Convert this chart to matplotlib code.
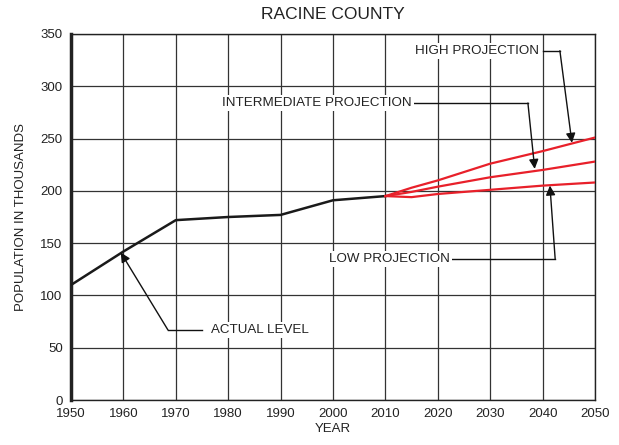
import matplotlib.pyplot as plt

plt.rcParams['font.family'] = ['Liberation Sans', 'DejaVu Sans']

# actual population (thousands)
years_actual = [1950, 1960, 1970, 1980, 1990, 2000, 2010]
pop_actual = [110, 142, 172, 175, 177, 191, 195]

# projections
years_proj = [2010, 2015, 2020, 2030, 2040, 2050]
pop_high = [195, 203, 210, 226, 238, 251]
pop_mid = [195, 199, 204, 213, 220, 228]
pop_low = [195, 194, 197, 201, 205, 208]

red = '#e8202a'

fig = plt.figure(figsize=(6.19, 4.45), dpi=100)
ax = fig.add_axes([0.1147, 0.1011, 0.8465, 0.8225])

ax.plot(years_actual, pop_actual, color='#1a1a1a', lw=1.8, zorder=3)
ax.plot(years_proj, pop_high, color=red, lw=1.6, zorder=3)
ax.plot(years_proj, pop_mid, color=red, lw=1.6, zorder=3)
ax.plot(years_proj, pop_low, color=red, lw=1.6, zorder=3)

ax.set_xlim(1950, 2050)
ax.set_ylim(0, 350)
ax.set_xticks(range(1950, 2051, 10))
ax.set_yticks(range(0, 351, 50))
ax.tick_params(length=0, labelsize=9.5, colors='#222222')
ax.tick_params(axis='x', pad=6)
ax.tick_params(axis='y', pad=6)
ax.grid(True, color='#333333', lw=0.9)
ax.set_axisbelow(True)
for s in ax.spines.values():
    s.set_color('#222222')
    s.set_linewidth(1.0)
ax.spines['left'].set_linewidth(2.5)

ax.set_title('RACINE COUNTY', fontsize=12.5, pad=11, color='#222222')
ax.set_xlabel('YEAR', fontsize=9.5, labelpad=2, color='#222222')
ax.set_ylabel('POPULATION IN THOUSANDS', fontsize=9.5, labelpad=10, color='#222222')

arrow = dict(arrowstyle='-|>', color='#111111', lw=1.0, mutation_scale=14, shrinkA=0, shrinkB=0)
bg = dict(boxstyle='square,pad=0.15', fc='white', ec='none')

# annotations: text, elbow line, arrow tip
def label(text, tx, ty, elbow, tip):
    ax.text(tx, ty, text, fontsize=9.6, ha='left', va='center', color='#222222', bbox=bg, zorder=5)
    ax.plot([elbow[0][0], elbow[1][0]], [elbow[0][1], elbow[1][1]], color='#111111', lw=1.0, zorder=4)
    ax.annotate('', xy=tip, xytext=elbow[1], arrowprops=arrow, zorder=4)

label('HIGH PROJECTION', 2015.6, 334, [(2040.0, 334), (2043.3, 334)], (2045.6, 246))
label('INTERMEDIATE PROJECTION', 1978.8, 284, [(2015.3, 284), (2037.2, 284)], (2038.5, 221))
label('LOW PROJECTION', 1999.2, 135, [(2022.7, 135), (2042.4, 135)], (2041.4, 205))
label('ACTUAL LEVEL', 1976.8, 67, [(1975.0, 67), (1968.5, 67)], (1959.5, 141))

fig.savefig('out.png', dpi=100)
